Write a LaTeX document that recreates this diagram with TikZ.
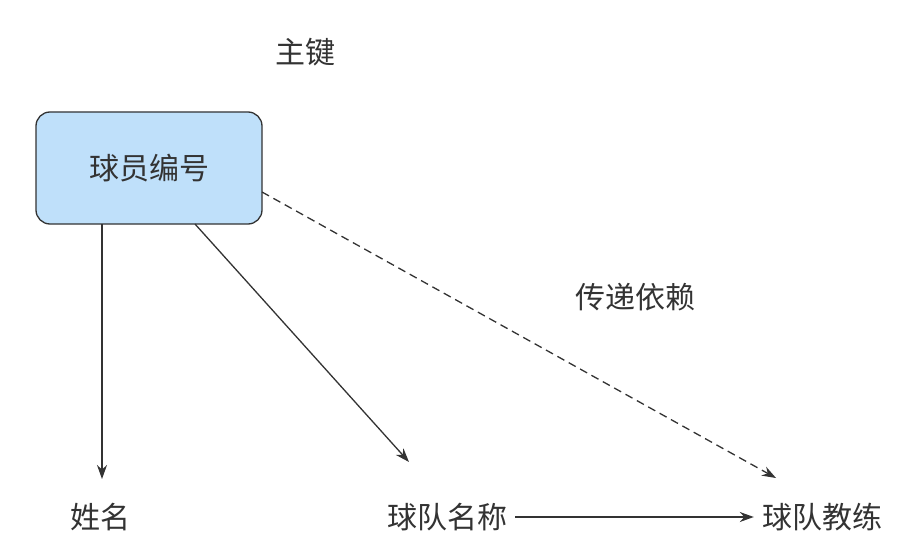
\documentclass[tikz,border=0pt]{standalone}
\usepackage{fontspec}
\newfontfamily\cjk{Noto Sans CJK SC}
\usetikzlibrary{arrows.meta}
\definecolor{boxblue}{HTML}{BFE0FA}
\definecolor{ink}{HTML}{333333}
\begin{document}
\begin{tikzpicture}[x=1pt,y=-1pt,
  lbl/.style={font=\cjk\fontsize{30}{34}\selectfont,text=ink,inner sep=0pt},
  con/.style={draw=ink,line width=1.3pt,-{Stealth[length=14pt,width=10pt]}}]
\useasboundingbox (0,0) rectangle (923,559);
\node[lbl,draw=ink,line width=1.3pt,fill=boxblue,rounded corners=14pt,minimum width=226pt,minimum height=112pt] (key) at (149,168) {球员编号};
\node[lbl] (pk) at (305,52) {主键};
\node[lbl] (dep) at (635,297) {传递依赖};
\node[lbl] (name) at (100,517) {姓名};
\node[lbl] (team) at (447,517) {球队名称};
\node[lbl] (coach) at (822,517) {球队教练};
\coordinate (a1) at (102,224); \coordinate (a2) at (102,479);
\coordinate (b1) at (195,224); \coordinate (b2) at (409,462);
\coordinate (c1) at (262,192); \coordinate (c2) at (776,478);
\draw[con] (a1) -- (a2);
\draw[con] (b1) -- (b2);
\draw[con,dash pattern=on 8pt off 5pt] (c1) -- (c2);
\draw[con] (team.east)++(8,0) -- ([xshift=-8pt]coach.west);
\end{tikzpicture}
\end{document}
